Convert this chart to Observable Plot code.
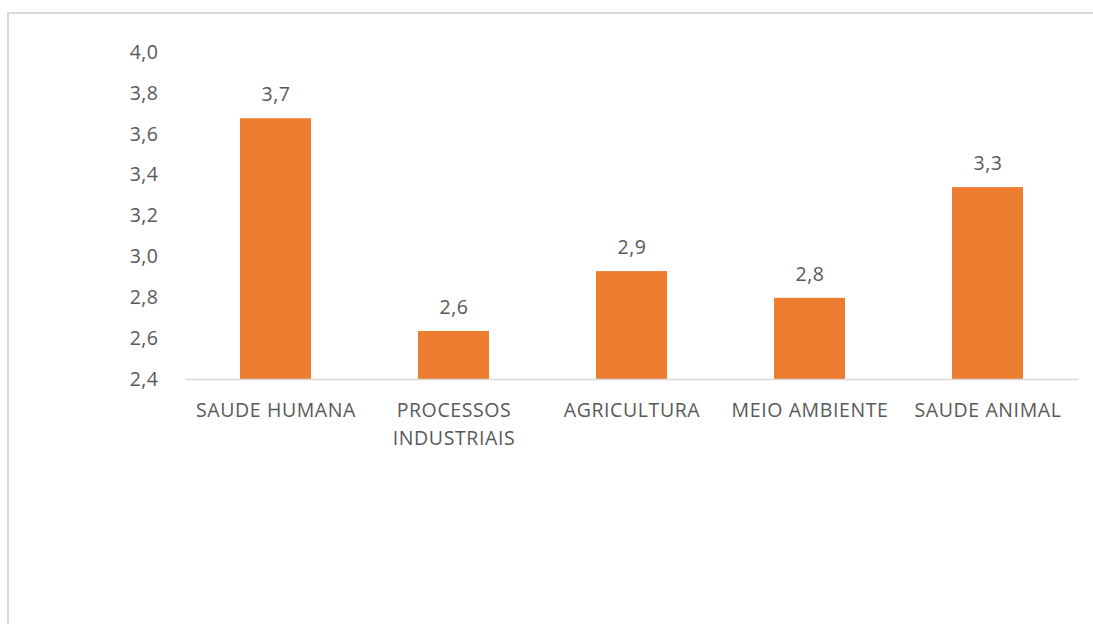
<!DOCTYPE html>
<html>
<head>
<meta charset="utf-8">
<script src="https://cdn.jsdelivr.net/npm/d3@7"></script>
<script src="https://cdn.jsdelivr.net/npm/@observablehq/plot@0.6"></script>
<style>
  html, body { margin: 0; padding: 0; background: #fff; overflow: hidden; width: 1093px; height: 624px; }
  #frame { position: absolute; left: 7px; top: 12px; width: 1200px; height: 800px; border: 2px solid #d9d9d9; box-sizing: border-box; }
  #chart { position: absolute; left: 0; top: 0; }
  .xax text { letter-spacing: 0.6px; }
  .yax text, .vals text { letter-spacing: 0.5px; }
</style>
</head>
<body>
<div id="frame"></div>
<div id="chart"></div>
<script>
const categories = ["SAUDE HUMANA", "PROCESSOS INDUSTRIAIS", "AGRICULTURA", "MEIO AMBIENTE", "SAUDE ANIMAL"];
const values = [3.676, 2.635, 2.928, 2.797, 3.339];
const yTicks = [2.4, 2.6, 2.8, 3.0, 3.2, 3.4, 3.6, 3.8, 4.0];

const data = categories.map((c, i) => ({category: c, value: values[i]}));
const fmt = v => v.toFixed(1).replace(".", ",");
const labelText = c => c === "PROCESSOS INDUSTRIAIS" ? "PROCESSOS\nINDUSTRIAIS" : c;

const FONT = "'Open Sans', sans-serif";
const GRAY = "#595959";

const chart = Plot.plot({
  width: 1093,
  height: 624,
  marginLeft: 185,
  marginRight: 14,
  marginTop: 52,
  marginBottom: 245,
  style: {fontFamily: FONT, background: "transparent", color: GRAY},
  x: {domain: categories, paddingInner: 0.6, paddingOuter: 0.3},
  y: {domain: [2.4, 4.0]},
  marks: [
    Plot.barY(data, {x: "category", y1: 2.4, y2: "value", fill: "#ED7D31"}),
    Plot.ruleY([2.4], {stroke: "#d9d9d9", strokeWidth: 1.5}),
    Plot.text(data, {x: "category", y: "value", text: d => fmt(d.value), dy: -24, fontSize: 19.5, fill: GRAY, className: "vals"}),
    Plot.axisY({ticks: yTicks, tickFormat: fmt, tickSize: 0, tickPadding: 27, fontSize: 19.5, fill: GRAY, label: null, className: "yax"}),
    Plot.axisX({tickFormat: labelText, tickSize: 0, tickPadding: 18, fontSize: 19.5, fill: GRAY, label: null, lineHeight: 1.43, className: "xax"})
  ]
});
document.getElementById("chart").appendChild(chart);
</script>
</body>
</html>
